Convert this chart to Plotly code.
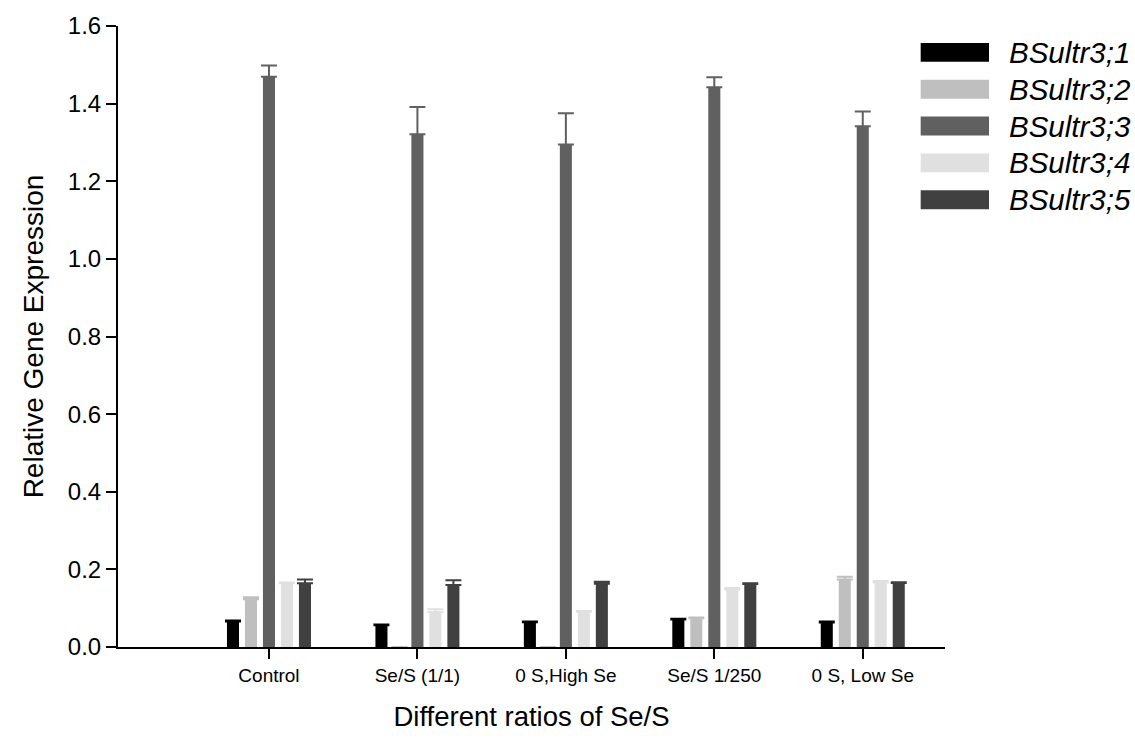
import plotly.graph_objects as go

# Treatments on the x axis
categories = ["Control", "Se/S (1/1)", "0 S,High Se", "Se/S 1/250", "0 S, Low Se"]

# Gene names
genes = ["BSultr3;1", "BSultr3;2", "BSultr3;3", "BSultr3;4", "BSultr3;5"]

# Mean relative expression per gene across treatments
bsultr3_1 = [0.066, 0.056, 0.064, 0.071, 0.063]
bsultr3_2 = [0.123, 0.0, 0.0, 0.074, 0.174]
bsultr3_3 = [1.469, 1.321, 1.295, 1.442, 1.342]
bsultr3_4 = [0.164, 0.090, 0.091, 0.148, 0.166]
bsultr3_5 = [0.164, 0.160, 0.163, 0.162, 0.165]

# Upper error (SE)
err3_1 = [0.002, 0.002, 0.002, 0.002, 0.003]
err3_2 = [0.005, 0.0, 0.0, 0.002, 0.007]
err3_3 = [0.029, 0.070, 0.080, 0.026, 0.038]
err3_4 = [0.002, 0.007, 0.002, 0.004, 0.004]
err3_5 = [0.010, 0.012, 0.005, 0.002, 0.002]

y_ticks = [0.0, 0.2, 0.4, 0.6, 0.8, 1.0, 1.2, 1.4, 1.6]

values = [bsultr3_1, bsultr3_2, bsultr3_3, bsultr3_4, bsultr3_5]
errors = [err3_1, err3_2, err3_3, err3_4, err3_5]
colors = ["#000000", "#bfbfbf", "#606060", "#e0e0e0", "#404040"]

FONT = "Arial, Liberation Sans, sans-serif"
x_pos = list(range(len(categories)))

fig = go.Figure()
for name, vals, errs, col in zip(genes, values, errors, colors):
    fig.add_trace(go.Bar(
        x=x_pos, y=vals, name=name,
        marker=dict(color=col, line=dict(width=0)),
        error_y=dict(type="data", array=errs, arrayminus=[0] * len(errs),
                     symmetric=False, color=col, thickness=2, width=8),
        showlegend=False,
    ))

# Legend drawn as wide swatches with italic labels
row_y0 = 0.9575
row_step = 37 / 624
for i, (name, col) in enumerate(zip(genes, colors)):
    yc = row_y0 - i * row_step
    h = 9.5 / 624
    fig.add_shape(type="rect", xref="paper", yref="paper",
                  x0=0.9706, x1=1.0532, y0=yc - h, y1=yc + h,
                  fillcolor=col, line=dict(width=0))
    fig.add_annotation(xref="paper", yref="paper", x=1.0744, y=yc,
                       text=f"<i>{name}</i>", showarrow=False,
                       xanchor="left", yanchor="middle",
                       font=dict(family=FONT, size=29.5, color="black"))

fig.update_layout(
    width=1135, height=743,
    margin=dict(l=118, r=190, t=23, b=96),
    paper_bgcolor="white", plot_bgcolor="white",
    barmode="group", bargap=0.394, bargroupgap=0.33,
    font=dict(family=FONT, color="black"),
)
fig.update_xaxes(
    range=[-1.017, 4.554],
    tickmode="array", tickvals=x_pos, ticktext=categories,
    tickfont=dict(size=19),
    showline=True, linecolor="black", linewidth=2,
    ticks="outside", ticklen=10, tickwidth=2, tickcolor="black",
    showgrid=False, zeroline=False,
    title=dict(text="Different ratios of Se/S", font=dict(size=27.5), standoff=22),
)
fig.update_yaxes(
    range=[0, 1.6],
    tickmode="array", tickvals=y_ticks, ticktext=[f"{v:.1f}" for v in y_ticks],
    tickfont=dict(size=24),
    showline=True, linecolor="black", linewidth=2,
    ticks="outside", ticklen=10, tickwidth=2, tickcolor="black",
    showgrid=False, zeroline=False,
    title=dict(text="Relative Gene Expression", font=dict(size=28), standoff=16),
)

fig.write_html("out.html")
